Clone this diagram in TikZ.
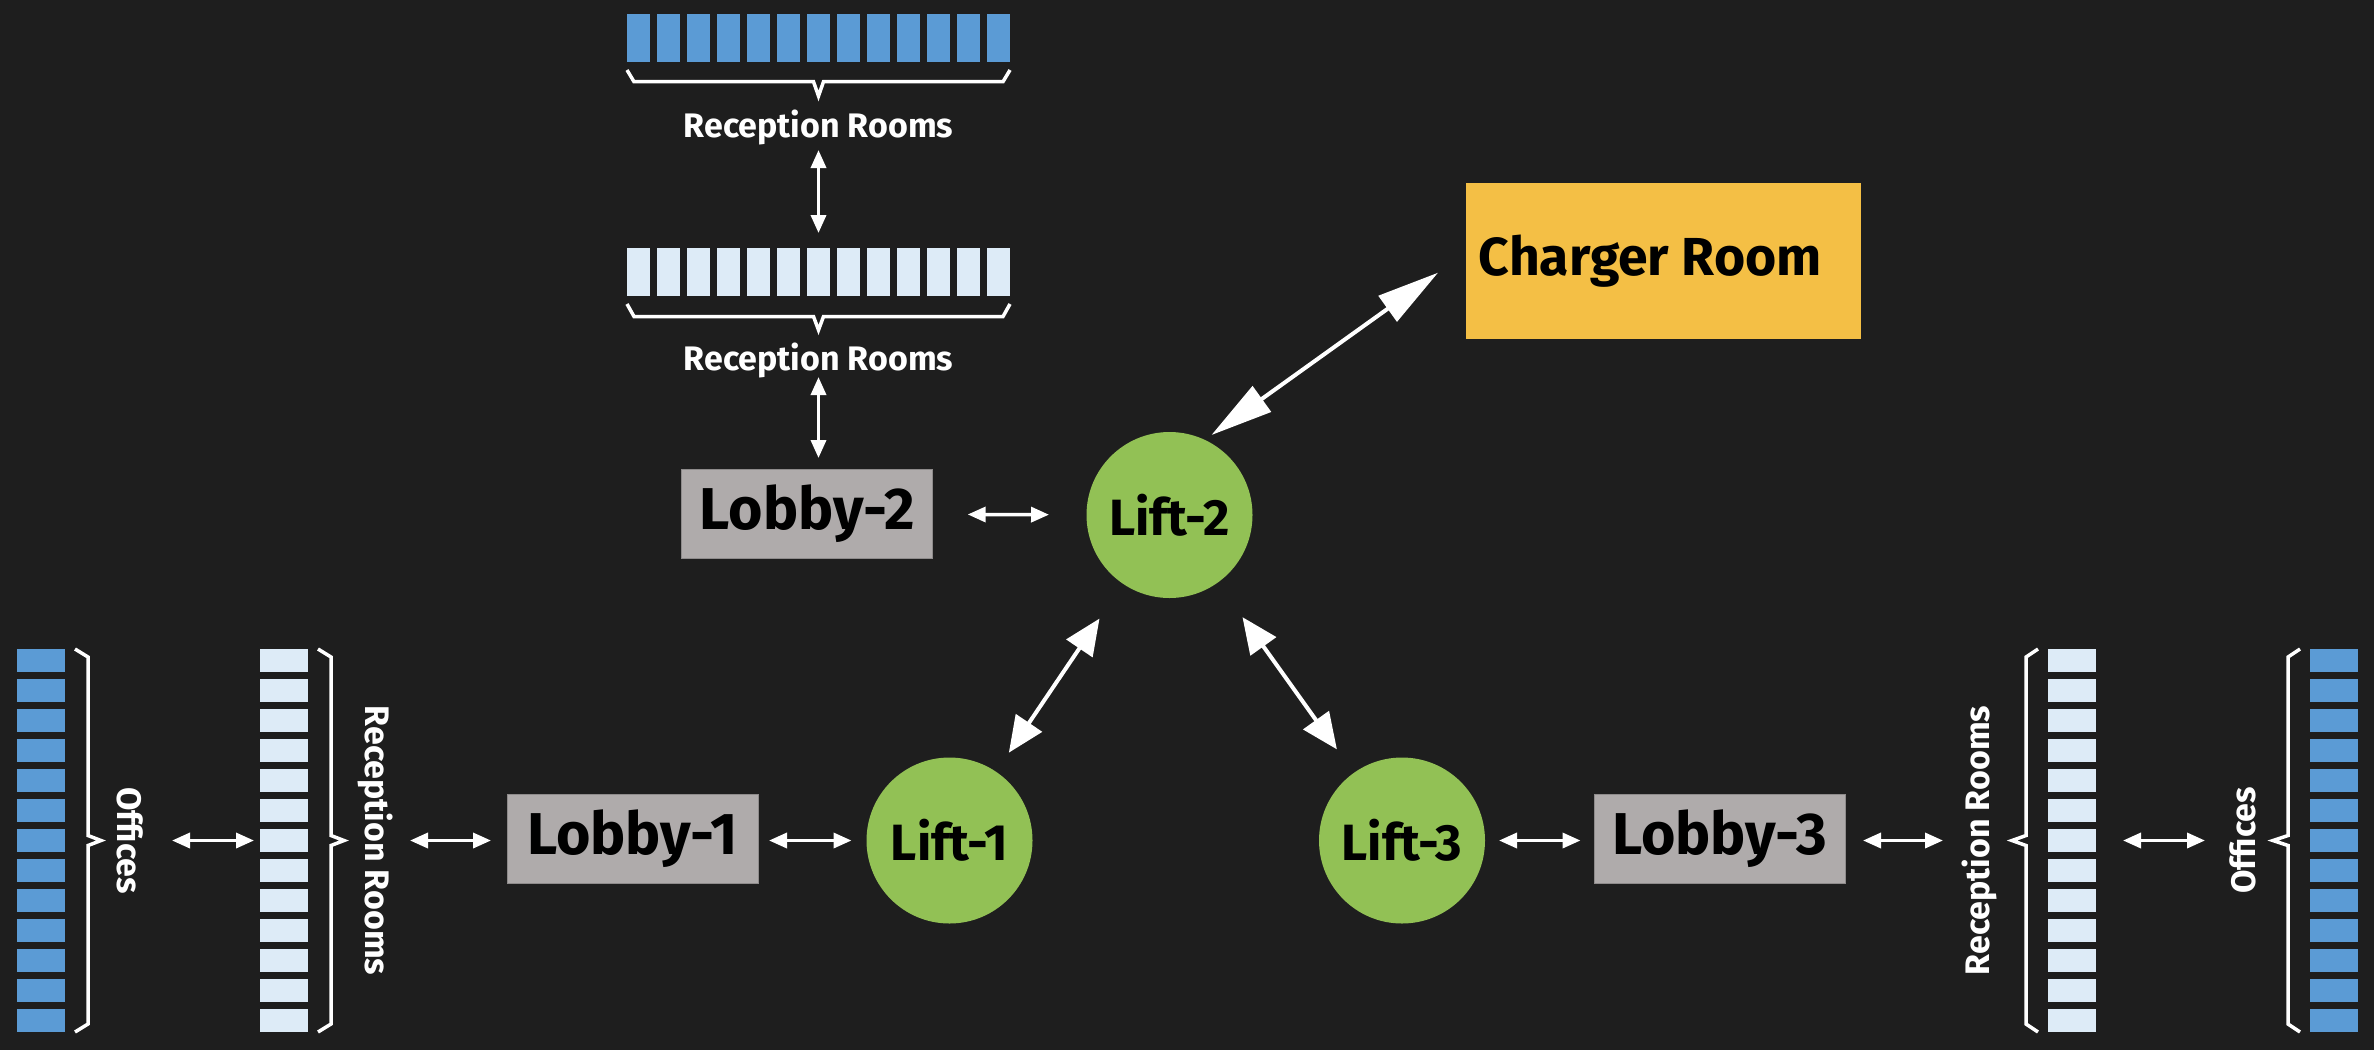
\documentclass[tikz,border=0pt]{standalone}
\usepackage{fontspec}
\setmainfont{Fira Sans}
\usetikzlibrary{arrows.meta,calc}
\definecolor{bgC}{HTML}{1E1E1E}
\definecolor{blueC}{HTML}{5B9BD5}
\definecolor{lightC}{HTML}{DDEBF7}
\definecolor{grayC}{HTML}{AFABAB}
\definecolor{grayD}{HTML}{8E8B8B}
\definecolor{greenC}{HTML}{92C155}
\definecolor{goldC}{HTML}{F4BF45}
\newcommand\mybrH[6]{% x0 x1 xm yt yl yp
  \draw[bracepath] (#1,#4) -- (#1+7,#5) -- (#3-5,#5) -- (#3,#6) -- (#3+5,#5) -- (#2-7,#5) -- (#2,#4);}
\newcommand\mybrV[6]{% y0 y1 ym xt xl xp
  \draw[bracepath] (#4,#1) -- (#5,#1+8) -- (#5,#3-5) -- (#6,#3) -- (#5,#3+5) -- (#5,#2-8) -- (#4,#2);}
\begin{document}
\begin{tikzpicture}[x=1pt,y=-1pt,
  lobbybox/.style={rectangle, fill=grayC, draw=grayD, line width=1pt, minimum width=251pt, minimum height=89pt, inner sep=0pt, text=black, font=\bfseries\fontsize{59}{61}\selectfont},
  liftnode/.style={circle, fill=greenC, minimum size=166pt, inner sep=0pt, text=black, font=\bfseries\fontsize{51}{53}\selectfont},
  chargerbox/.style={rectangle, fill=goldC, minimum width=395pt, minimum height=156pt, inner sep=0pt, text=black, font=\bfseries\fontsize{53.5}{55}\selectfont},
  lbl/.style={text=white, inner sep=0pt, font=\bfseries\fontsize{34}{35}\selectfont},
  area/.style={rectangle, draw=none, inner sep=0pt},
  sarrow/.style={white, line width=3.5pt, {Triangle[length=18pt,width=15pt]}-{Triangle[length=18pt,width=15pt]}},
  barrow/.style={white, line width=4pt, {Triangle[length=36pt,width=31pt]}-{Triangle[length=36pt,width=31pt]}},
  carrow/.style={white, line width=4pt, {Triangle[length=62pt,width=31pt]}-{Triangle[length=62pt,width=31pt]}},
  bracepath/.style={white, line width=3.5pt, line join=miter}
]
\useasboundingbox (0,0) rectangle (2374,1050);
\fill[bgC] (0,0) rectangle (2374,1050);

% strip areas
\node[area, minimum width=383pt, minimum height=48pt] (stripT1) at (818.5,38.3) {};
\node[area, minimum width=383pt, minimum height=48pt] (stripT2) at (818.5,272) {};
\node[area, minimum width=48pt, minimum height=383pt] (stripLO) at (41,840.5) {};
\node[area, minimum width=48pt, minimum height=383pt] (stripLR) at (284,840.5) {};
\node[area, minimum width=48pt, minimum height=383pt] (stripRR) at (2072,840.5) {};
\node[area, minimum width=48pt, minimum height=383pt] (stripRO) at (2334,840.5) {};

% strip rooms
\foreach \i in {0,...,12}{
  \fill[blueC]  (627+30*\i,14.3) rectangle ++(22.7,48);
  \fill[lightC] (627+30*\i,248) rectangle ++(22.7,48);
  \fill[blueC]  (17,649+30*\i) rectangle ++(48,22.7);
  \fill[lightC] (260,649+30*\i) rectangle ++(48,22.7);
  \fill[lightC] (2048,649+30*\i) rectangle ++(48,22.7);
  \fill[blueC]  (2310,649+30*\i) rectangle ++(48,22.7);
}

% braces
\mybrH{627}{1010}{818.5}{70}{81.7}{96}
\mybrH{627}{1010}{818.5}{304}{316.5}{330}
\mybrV{649}{1032}{840.5}{75}{88}{101}
\mybrV{649}{1032}{840.5}{318}{331}{344}
\mybrV{649}{1032}{840.5}{2038}{2026}{2012}
\mybrV{649}{1032}{840.5}{2300}{2288}{2273}

% labels
\node[lbl] (lblT1) at (818.5,127) {Reception Rooms};
\node[lbl] (lblT2) at (818.5,360) {Reception Rooms};
\node[lbl, rotate=-90] (offL) at (130,840.5) {Offices};
\node[lbl, rotate=-90] (lrL) at (376,840.5) {Reception Rooms};
\node[lbl, rotate=90] (rrR) at (1979.5,840.5) {Reception Rooms};
\node[lbl, rotate=90] (offR) at (2242.5,840.5) {Offices};

% main nodes
\node[lobbybox] (lobby2) at (807.4,514) {Lobby-2};
\node[lobbybox] (lobby1) at (632.5,838.5) {Lobby-1};
\node[lobbybox] (lobby3) at (1719.5,838.5) {Lobby-3};
\node[liftnode] (lift1) at (949.5,840.5) {Lift-1};
\node[liftnode] (lift2) at (1169.5,515) {Lift-2};
\node[liftnode] (lift3) at (1402,840.5) {Lift-3};
\node[chargerbox] (charger) at (1663.3,260.9) {Charger Room\hspace*{26pt}};

% connectors
\draw[sarrow, shorten <=23pt, shorten >=39pt] (lblT1.center) -- (stripT2.center);
\draw[sarrow, shorten <=17pt, shorten >=56pt] (lblT2.center) -- (lblT2.center |- lobby2.center);
\draw[sarrow, shorten <=160.3pt, shorten >=120.5pt] (lobby2.center) -- (lift2.center);
\draw[carrow] ($(lift2.center)+(42,-80)$) -- ($(charger.west)+(-27.6,11.8)$);
\draw[barrow, shorten <=106pt, shorten >=125pt] (lift1.center) -- (lift2.center);
\draw[barrow, shorten <=125.5pt, shorten >=112pt] (lift2.center) -- (lift3.center);
\draw[sarrow, shorten <=42pt, shorten >=30pt] (offL.center) -- (stripLR.center);
\draw[sarrow, shorten <=34pt, shorten >=141.5pt] (lrL.center) -- (lrL.center -| lobby1.center);
\draw[sarrow, shorten <=136.5pt, shorten >=98pt] (lobby1.center |- lift1.center) -- (lift1.center);
\draw[sarrow, shorten <=97pt, shorten >=139pt] (lift3.center) -- (lift3.center -| lobby3.center);
\draw[sarrow, shorten <=143.5pt, shorten >=36.5pt] (lobby3.center |- rrR.center) -- (rrR.center);
\draw[sarrow, shorten <=51pt, shorten >=37.5pt] (stripRR.center) -- (offR.center);
\end{tikzpicture}
\end{document}
